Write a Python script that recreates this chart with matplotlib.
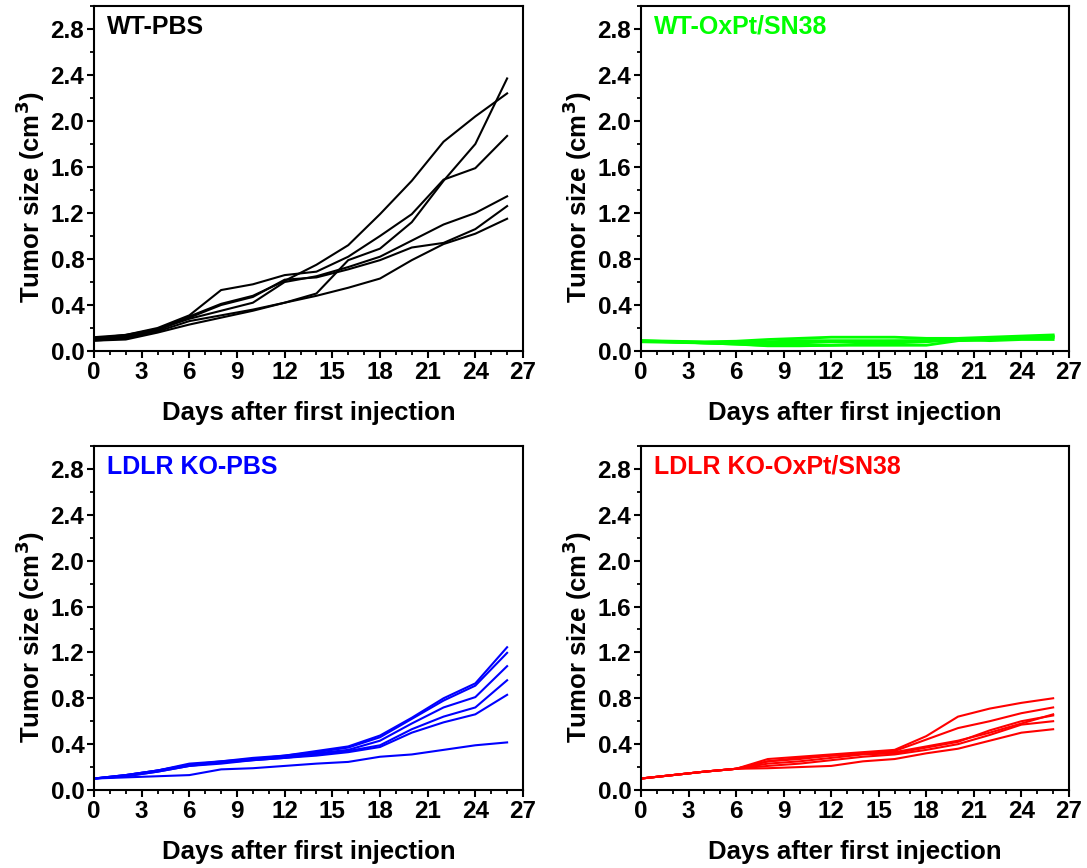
import matplotlib
matplotlib.use("Agg")
import matplotlib.pyplot as plt
from matplotlib.ticker import MultipleLocator

plt.rcParams["font.family"] = ["Liberation Sans", "DejaVu Sans"]
plt.rcParams["font.weight"] = "bold"

days = [0, 2, 4, 6, 8, 10, 12, 14, 16, 18, 20, 22, 24, 26]

wt_pbs = [
    [0.10, 0.13, 0.19, 0.30, 0.41, 0.48, 0.61, 0.75, 0.92, 1.19, 1.48, 1.82, 2.04, 2.24],
    [0.09, 0.11, 0.17, 0.26, 0.31, 0.36, 0.42, 0.50, 0.79, 0.89, 1.12, 1.48, 1.80, 2.37],
    [0.11, 0.14, 0.20, 0.31, 0.53, 0.58, 0.66, 0.69, 0.82, 1.00, 1.19, 1.49, 1.59, 1.87],
    [0.12, 0.14, 0.19, 0.28, 0.35, 0.42, 0.60, 0.65, 0.73, 0.82, 0.96, 1.10, 1.20, 1.345],
    [0.10, 0.12, 0.18, 0.29, 0.40, 0.47, 0.62, 0.64, 0.71, 0.79, 0.90, 0.94, 1.06, 1.26],
    [0.09, 0.10, 0.16, 0.23, 0.29, 0.35, 0.42, 0.48, 0.55, 0.63, 0.79, 0.93, 1.02, 1.15],
]

wt_oxpt = [
    [0.09, 0.085, 0.08, 0.085, 0.10, 0.11, 0.12, 0.12, 0.12, 0.11, 0.11, 0.12, 0.13, 0.14],
    [0.085, 0.08, 0.07, 0.07, 0.08, 0.09, 0.09, 0.09, 0.09, 0.09, 0.10, 0.10, 0.11, 0.12],
    [0.09, 0.08, 0.07, 0.06, 0.05, 0.05, 0.05, 0.05, 0.05, 0.05, 0.09, 0.10, 0.11, 0.13],
    [0.08, 0.075, 0.07, 0.06, 0.045, 0.045, 0.05, 0.06, 0.07, 0.08, 0.10, 0.09, 0.10, 0.10],
    [0.085, 0.08, 0.075, 0.07, 0.07, 0.07, 0.08, 0.08, 0.085, 0.09, 0.09, 0.10, 0.11, 0.12],
]

ko_pbs = [
    [0.10, 0.13, 0.17, 0.23, 0.25, 0.28, 0.30, 0.34, 0.38, 0.475, 0.63, 0.80, 0.93, 1.245],
    [0.10, 0.13, 0.17, 0.22, 0.25, 0.27, 0.30, 0.33, 0.37, 0.46, 0.62, 0.78, 0.91, 1.196],
    [0.10, 0.13, 0.17, 0.22, 0.24, 0.27, 0.29, 0.32, 0.35, 0.43, 0.58, 0.72, 0.81, 1.08],
    [0.10, 0.12, 0.16, 0.21, 0.24, 0.26, 0.28, 0.31, 0.34, 0.39, 0.53, 0.64, 0.72, 0.957],
    [0.10, 0.12, 0.16, 0.21, 0.23, 0.26, 0.28, 0.30, 0.33, 0.375, 0.50, 0.59, 0.66, 0.83],
    [0.10, 0.11, 0.12, 0.13, 0.18, 0.19, 0.21, 0.23, 0.245, 0.29, 0.31, 0.35, 0.39, 0.415],
]

ko_oxpt = [
    [0.10, 0.13, 0.16, 0.185, 0.27, 0.29, 0.31, 0.33, 0.35, 0.47, 0.64, 0.71, 0.76, 0.80],
    [0.10, 0.13, 0.16, 0.185, 0.25, 0.28, 0.30, 0.32, 0.34, 0.44, 0.54, 0.60, 0.67, 0.72],
    [0.10, 0.13, 0.16, 0.185, 0.25, 0.27, 0.30, 0.32, 0.33, 0.38, 0.43, 0.50, 0.58, 0.66],
    [0.10, 0.13, 0.16, 0.185, 0.23, 0.25, 0.28, 0.31, 0.32, 0.37, 0.42, 0.52, 0.60, 0.65],
    [0.10, 0.13, 0.16, 0.185, 0.21, 0.23, 0.26, 0.29, 0.31, 0.35, 0.40, 0.48, 0.57, 0.60],
    [0.10, 0.13, 0.16, 0.185, 0.19, 0.20, 0.21, 0.25, 0.27, 0.32, 0.36, 0.43, 0.50, 0.53],
]

y_ticks = [0.0, 0.4, 0.8, 1.2, 1.6, 2.0, 2.4, 2.8]

panels = [
    ("WT-PBS", "#000000", wt_pbs, 1.5),
    ("WT-OxPt/SN38", "#00ff00", wt_oxpt, 2.0),
    ("LDLR KO-PBS", "#0000ff", ko_pbs, 1.5),
    ("LDLR KO-OxPt/SN38", "#ff0000", ko_oxpt, 1.5),
]

W, H = 1087, 868
fig = plt.figure(figsize=(W / 100, H / 100), dpi=100)

# axes boxes in pixels: left, right, top, bottom
boxes = [
    (94, 523, 6, 351),
    (641, 1069, 6, 351),
    (94, 523, 446, 790),
    (641, 1069, 446, 790),
]

for (title, color, series, lw), (l, r, t, b) in zip(panels, boxes):
    ax = fig.add_axes([l / W, 1 - b / H, (r - l) / W, (b - t) / H])
    for s in series:
        ax.plot(days, s, color=color, lw=lw, solid_joinstyle="miter")
    ax.set_xlim(0, 27)
    ax.set_ylim(0, 3.0)
    ax.xaxis.set_major_locator(MultipleLocator(3))
    ax.xaxis.set_minor_locator(MultipleLocator(1))
    ax.yaxis.set_minor_locator(MultipleLocator(0.2))
    ax.set_yticks(y_ticks)
    ax.set_yticklabels([f"{v:.1f}" for v in y_ticks])
    for sp in ax.spines.values():
        sp.set_linewidth(1.5)
    ax.tick_params(which="major", direction="out", length=5, width=1.5,
                   labelsize=17.5, pad=2)
    ax.tick_params(which="minor", direction="out", length=3, width=1.3)
    ax.set_xlabel("Days after first injection", fontsize=18.5, fontweight="bold")
    ax.set_ylabel("Tumor size (cm$^\\mathbf{3}$)", fontsize=18.5, fontweight="bold")
    ax.xaxis.label.set_va("center")
    ax.yaxis.label.set_va("center")
    ax.xaxis.set_label_coords(0.5, -62 / (b - t))
    ax.yaxis.set_label_coords(-64 / (r - l), 1 - 191 / (b - t))
    ax.text(13 / (r - l), 1 - 21 / (b - t), title, transform=ax.transAxes,
            color=color, fontsize=18, fontweight="bold", va="center", ha="left")

fig.savefig("out.png", dpi=100)
